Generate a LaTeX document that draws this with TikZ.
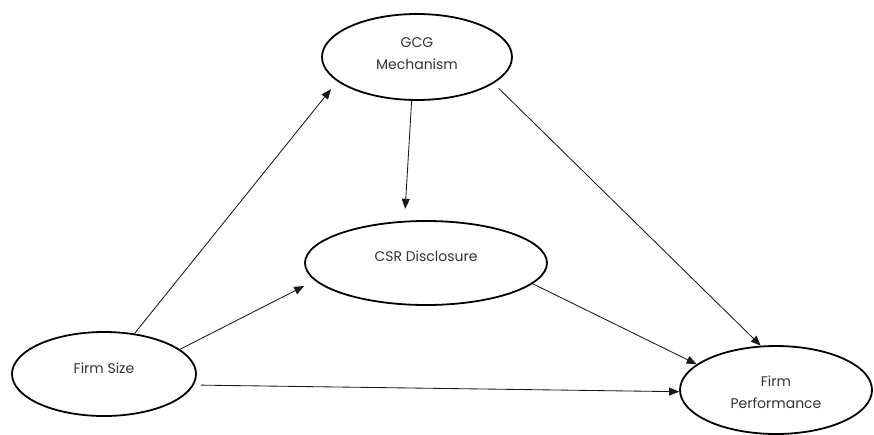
\documentclass[tikz,border=0pt]{standalone}
\usepackage{fontspec}
\setmainfont{Poppins}
\usetikzlibrary{arrows.meta,shapes.geometric}
\definecolor{txtgray}{HTML}{333333}
\tikzset{
  ell/.style={ellipse, draw=black, line width=1.8pt, inner sep=0pt, fill=white},
  txt/.style={font=\fontsize{14}{22}\selectfont, text=txtgray, align=center},
  arr/.style={draw=black!90, line width=0.85pt, -{Triangle[length=10pt,width=8pt]}}
}
\begin{document}
\begin{tikzpicture}[x=1pt,y=-1pt]
\useasboundingbox[fill=white] (0,0) rectangle (874,434);
\node[ell, minimum width=190pt, minimum height=86pt,
  label={[txt,yshift=3pt]center:GCG\\Mechanism}] (gcg) at (417,57) {};
\node[ell, minimum width=242pt, minimum height=84pt,
  label={[txt,yshift=7pt]center:CSR Disclosure}] (csr) at (426,263) {};
\node[ell, minimum width=184pt, minimum height=84pt,
  label={[txt,yshift=6pt]center:Firm Size}] (fs) at (104,374) {};
\node[ell, minimum width=192pt, minimum height=88pt,
  label={[txt,yshift=-2pt]center:Firm\\Performance}] (fp) at (776,390) {};
\draw[arr, shorten >=10pt] (fs.53.6) -- (gcg.197.1);
\draw[arr, shorten >=12pt] (gcg.263.4) -- (csr.117);
\draw[arr, shorten >=12pt] (fs.18.2) -- (csr.189.9);
\draw[arr, shorten <=7pt] (gcg.341.9) -- (fp.109);
\draw[arr] (csr.349.6) -- (fp.162.4);
\draw[arr, shorten <=7pt] (fs.-7.5) -- (fp.181);
\end{tikzpicture}
\end{document}
